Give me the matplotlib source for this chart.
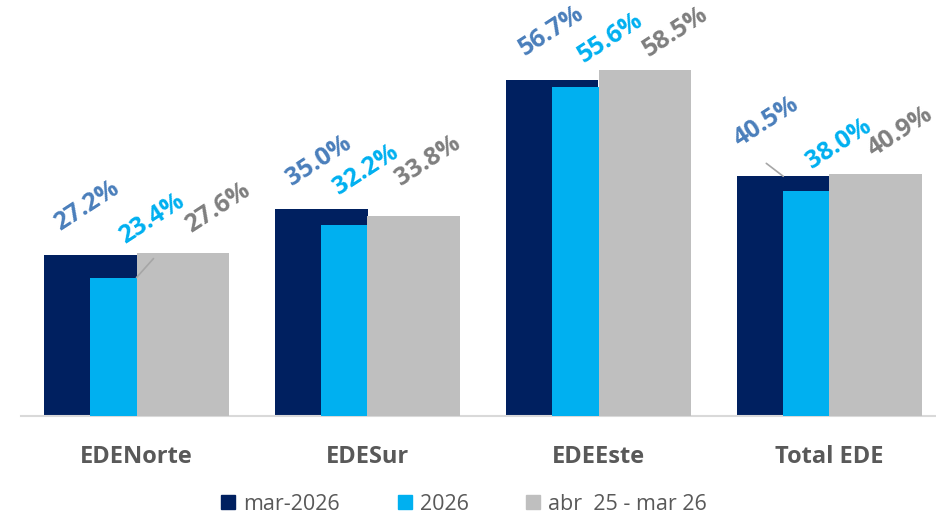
import matplotlib
matplotlib.use('Agg')
import matplotlib.pyplot as plt
from matplotlib.lines import Line2D
import numpy as np

plt.rcParams['font.family'] = ['Open Sans', 'DejaVu Sans']

categories = ['EDENorte', 'EDESur', 'EDEEste', 'Total EDE']
series_names = ['mar-2026', '2026', 'abr  25 - mar 26']
mar_2026 = [27.2, 35.0, 56.7, 40.5]
year_2026 = [23.4, 32.2, 55.6, 38.0]
last_12m = [27.6, 33.8, 58.5, 40.9]

bar_colors = ['#002060', '#00B0F0', '#BFBFBF']
label_colors = ['#4A7EBB', '#00B0F0', '#7F7F7F']

# label start offsets (pixels) relative to bar centre / top
label_offsets = [
    [(-30, 24), (-29, 23), (-28, 24), (-44, 29)],
    [(-11, 34), (-29, 30), (-15, 24), (-17, 22)],
    [(8, 20), (-13, 30), (4, 13), (-2, 17)],
]

fig = plt.figure(figsize=(9.36, 5.18), dpi=100)
ax = fig.add_axes([21 / 936, 102 / 518, 1 - 21 / 936, 416 / 518])

x = np.arange(len(categories))
width = 0.4
offsets = [-0.2, 0.0, 0.2]
all_series = [mar_2026, year_2026, last_12m]

for i, vals in enumerate(all_series):
    xs = x + offsets[i]
    ax.bar(xs, vals, width=width, color=bar_colors[i], zorder=2 + i)
    for j, v in enumerate(vals):
        dx, dy = label_offsets[i][j]
        ax.annotate(f'{v:.1f}%', xy=(xs[j], v), xytext=(dx, dy),
                    textcoords='offset pixels', ha='left', va='baseline',
                    rotation=33, rotation_mode='anchor', fontsize=18,
                    fontweight='bold', color=label_colors[i], zorder=10)

# leader lines
ax.annotate('', xy=(x[0] + offsets[1], year_2026[0]), xytext=(17, 19),
            textcoords='offset pixels',
            arrowprops=dict(arrowstyle='-', color='#A6A6A6', lw=1.2,
                            shrinkA=0, shrinkB=0), zorder=10)
ax.annotate('', xy=(x[3] + offsets[0], mar_2026[3]), xytext=(-17, 13),
            textcoords='offset pixels',
            arrowprops=dict(arrowstyle='-', color='#A6A6A6', lw=1.2,
                            shrinkA=0, shrinkB=0), zorder=10)

ax.set_xlim(-0.5, (936 - 136.5) / 231)
ax.set_ylim(0, 70.3)
ax.set_xticks(x)
ax.set_xticklabels(categories, fontsize=17, fontweight='bold', color='#595959')
ax.tick_params(axis='x', length=0, pad=21)
ax.set_yticks([])
for s in ['top', 'right', 'left']:
    ax.spines[s].set_visible(False)
ax.spines['bottom'].set_color('#D9D9D9')
ax.spines['bottom'].set_linewidth(1.5)

handles = [Line2D([], [], marker='s', linestyle='', markersize=10,
                  markerfacecolor=c, markeredgecolor=c) for c in bar_colors]
fig.legend(handles, series_names, loc='center', bbox_to_anchor=(0.495, 0.027),
           ncol=3, frameon=False, fontsize=15.5, labelcolor='#595959',
           handletextpad=0.3, columnspacing=2.6, handlelength=0.8)

fig.savefig('out.png', dpi=100)
